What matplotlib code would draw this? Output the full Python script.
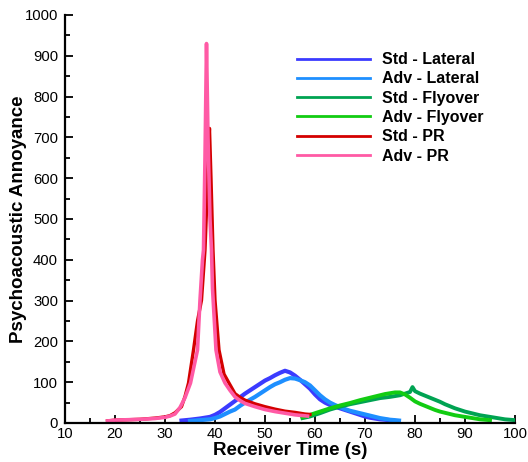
import matplotlib
matplotlib.use("Agg")
import matplotlib.pyplot as plt
from matplotlib.ticker import MultipleLocator

plt.rcParams['font.family'] = ['Liberation Sans', 'DejaVu Sans']

# ---- data ----
std_lat_t = [33.3, 35, 37, 39, 40, 41, 42, 43, 44, 45, 46, 47, 48, 49, 50, 51, 52, 53, 54, 55, 56, 57,
             58, 59, 60, 61, 62, 63, 64, 65, 66, 67, 68, 69, 70, 71, 72, 73, 74, 75, 75.6]
std_lat_v = [6, 8, 11, 15, 20, 27, 36, 45, 54, 63, 72, 80, 88, 96, 104, 110, 117, 123, 128, 124, 116, 106,
             95, 84, 70, 58, 50, 44, 40, 36, 32, 28, 24, 20, 16, 13, 11, 9, 8, 7, 6]

adv_lat_t = [35, 37, 39, 40, 41, 42, 43, 44, 45, 46, 47, 48, 49, 50, 51, 52, 53, 54, 55, 56, 57,
             58, 59, 60, 61, 62, 63, 64, 65, 66, 67, 68, 69, 70, 71, 72, 73, 74, 75, 76, 76.8]
adv_lat_v = [5, 7, 9, 12, 16, 22, 28, 33, 42, 50, 57, 64, 72, 80, 88, 95, 100, 106, 110, 109, 105,
             100, 92, 80, 68, 58, 50, 44, 39, 34, 30, 27, 24, 21, 18, 15, 12, 10, 8, 7, 6]

std_fly_t = [57.5, 59, 61, 63, 65, 67, 69, 71, 73, 75, 76, 77, 78, 79, 79.5, 80, 81, 82, 83, 84, 85,
             86, 87, 88, 89, 90, 91, 92, 93, 94, 95, 96, 97, 98, 99, 100]
std_fly_v = [12, 16, 24, 33, 40, 46, 51, 56, 61, 64, 66, 68, 72, 76, 88, 78, 72, 67, 62, 57, 52,
             46, 41, 36, 32, 28, 25, 22, 19, 17, 15, 13, 11, 9, 8, 7]

adv_fly_t = [57.5, 59, 61, 63, 65, 67, 69, 71, 72, 73, 74, 75, 76, 77, 78, 79, 80, 81, 82, 83, 84,
             85, 86, 87, 88, 89, 90, 91, 92, 93, 94, 95]
adv_fly_v = [14, 20, 28, 36, 43, 49, 56, 62, 65, 68, 71, 73, 75, 75, 70, 62, 53, 47, 42, 37, 32,
             28, 25, 22, 19, 17, 15, 13, 11, 9, 8, 7]

std_pr_t = [18.5, 20, 25, 28, 30, 31, 32, 33.3, 34, 34.7, 35.7, 36.5, 37.3, 38.0, 38.3, 38.6, 38.9,
            39.2, 39.6, 40.0, 40.8, 41.8, 42.8, 44, 45, 46, 48, 50, 52, 54, 56, 58, 59]
std_pr_v = [5, 7, 9, 12, 15, 18, 25, 40, 65, 98, 179, 250, 301, 424, 520, 650, 722,
            600, 424, 301, 179, 120, 98, 72, 63, 56, 47, 40, 34, 29, 26, 22, 21]

adv_pr_t = [18.5, 20, 25, 28, 30, 31, 32, 33, 34, 35.1, 36, 36.5, 37.0, 37.5, 37.7, 38.0, 38.3,
            38.6, 39.0, 39.3, 39.5, 40.2, 41, 42, 43, 44, 45, 46, 48, 50, 52, 54, 56, 58.5]
adv_pr_v = [5, 7, 9, 11, 14, 17, 22, 38, 62, 98, 150, 179, 301, 400, 424, 650, 930,
            700, 500, 424, 330, 179, 125, 98, 80, 64, 55, 48, 40, 33, 28, 24, 20, 17]

series = [
    ("Std - Lateral", std_lat_t, std_lat_v, "#3b3bff", 3.0),
    ("Adv - Lateral", adv_lat_t, adv_lat_v, "#1e8fff", 3.0),
    ("Std - Flyover", std_fly_t, std_fly_v, "#00a352", 2.8),
    ("Adv - Flyover", adv_fly_t, adv_fly_v, "#12cc12", 2.8),
    ("Std - PR", std_pr_t, std_pr_v, "#d40000", 2.4),
    ("Adv - PR", adv_pr_t, adv_pr_v, "#ff5aa5", 2.6),
]

fig = plt.figure(figsize=(5.28, 4.62), dpi=100)
ax = fig.add_axes([65/528, 1-423/462, 450/528, 408/462])

for label, t, v, c, lw in series:
    ax.plot(t, v, color=c, lw=lw, label=label, solid_joinstyle='round')

ax.set_xlim(10, 100)
ax.set_ylim(0, 1000)
ax.xaxis.set_major_locator(MultipleLocator(10))
ax.xaxis.set_minor_locator(MultipleLocator(5))
ax.yaxis.set_major_locator(MultipleLocator(100))
ax.yaxis.set_minor_locator(MultipleLocator(50))
ax.tick_params(which='both', direction='in', width=1.3, labelsize=10.7)
ax.tick_params(which='major', length=6)
ax.tick_params(which='minor', length=3.5)
ax.tick_params(axis='x', pad=3)
ax.tick_params(axis='y', pad=5)
for s in ['top', 'right']:
    ax.spines[s].set_visible(False)
for s in ['left', 'bottom']:
    ax.spines[s].set_linewidth(1.6)

ax.set_xlabel("Receiver Time (s)", fontsize=13.5, fontweight='bold')
ax.set_ylabel("Psychoacoustic Annoyance", fontsize=13.5, fontweight='bold')
ax.xaxis.set_label_coords(0.5, -0.047)
ax.xaxis.label.set_va('top')
ax.yaxis.set_label_coords(-0.085, 0.5)

leg = ax.legend(loc='upper left', bbox_to_anchor=(0.515, 0.909), frameon=False,
                prop={'size': 11.5, 'weight': 'bold'}, handlelength=4.6,
                handletextpad=0.75, labelspacing=0.27, borderpad=0, borderaxespad=0)
for line in leg.get_lines():
    line.set_linewidth(2.0)

fig.savefig("out.png", dpi=100)
